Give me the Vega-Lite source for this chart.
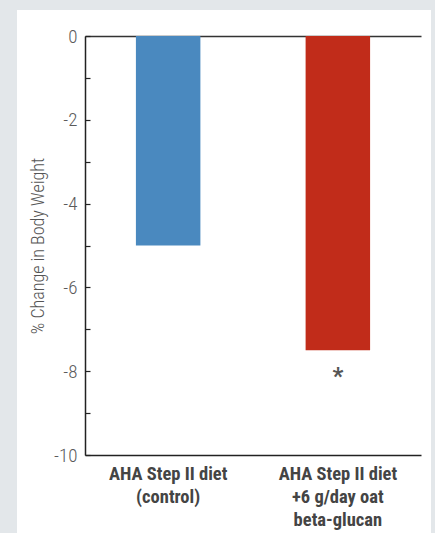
{
  "$schema": "https://vega.github.io/schema/vega-lite/v6.json",
  "width": 414,
  "height": 523,
  "autosize": {"type": "none"},
  "padding": {"left": 17, "top": 10, "right": 4, "bottom": 0},
  "background": "#e3e7ea",
  "config": {
    "view": {"fill": "white", "stroke": null},
    "font": "'Roboto Condensed', 'DejaVu Sans Condensed', Roboto"
  },
  "data": {
    "values": [
      {"group": "AHA Step II diet\n(control)", "change": -5.0, "note": ""},
      {"group": "AHA Step II diet\n+6 g/day oat\nbeta-glucan", "change": -7.5, "note": "*"}
    ]
  },
  "encoding": {
    "y": {
      "field": "change",
      "type": "quantitative",
      "scale": {"domain": [-10, 0], "range": [445, 26], "nice": false, "zero": false},
      "axis": {
        "orient": "left",
        "offset": -68,
        "values": [-10, -9, -8, -7, -6, -5, -4, -3, -2, -1, 0],
        "labelExpr": "datum.value % 2 == 0 ? '' + datum.value : ''",
        "grid": false,
        "domainColor": "#222222",
        "domainWidth": 1.5,
        "tickColor": "#222222",
        "tickSize": -5,
        "tickWidth": 1.2,
        "labelFontSize": 19,
        "labelFontWeight": 300,
        "labelColor": "#5a5a5a",
        "labelPadding": 13,
        "labelFont": "'Roboto Condensed', 'DejaVu Sans Condensed', Roboto",
        "title": "% Change in Body Weight",
        "titleFont": "'Roboto Condensed', 'DejaVu Sans Condensed', Roboto",
        "titleFontSize": 18,
        "titleFontWeight": 300,
        "titleColor": "#555555",
        "titlePadding": 6
      }
    }
  },
  "layer": [
    {
      "mark": {"type": "bar"},
      "encoding": {
        "x": {
          "field": "group",
          "type": "nominal",
          "sort": null,
          "scale": {"range": [68, 404], "paddingInner": 0.62, "paddingOuter": 0.3},
          "axis": {
            "orient": "bottom",
            "offset": -78,
            "title": null,
            "ticks": false,
            "domainColor": "#222222",
            "domainWidth": 1.5,
            "labelAngle": 0,
            "labelExpr": "split(datum.label, '\\n')",
            "labelFont": "'Roboto Condensed', 'DejaVu Sans Condensed', Roboto",
            "labelFontSize": 18.5,
            "labelFontWeight": "bold",
            "labelColor": "#444444",
            "labelPadding": 9,
            "labelLineHeight": 23
          }
        },
        "color": {
          "field": "group",
          "type": "nominal",
          "sort": null,
          "scale": {"range": ["#4a89bf", "#c12c1a"]},
          "legend": null
        }
      }
    },
    {
      "mark": {"type": "text", "baseline": "middle", "align": "center", "dy": 27, "fontSize": 24, "fontWeight": "bold", "color": "#555555", "font": "'Roboto Condensed', 'DejaVu Sans Condensed', Roboto"},
      "encoding": {
        "x": {
          "field": "group",
          "type": "nominal",
          "sort": null,
          "axis": {
            "orient": "top",
            "offset": -26,
            "title": null,
            "labels": false,
            "ticks": false,
            "domainColor": "#333333",
            "domainWidth": 1.5
          }
        },
        "text": {"field": "note"}
      }
    }
  ],
  "resolve": {"axis": {"x": "independent"}}
}
